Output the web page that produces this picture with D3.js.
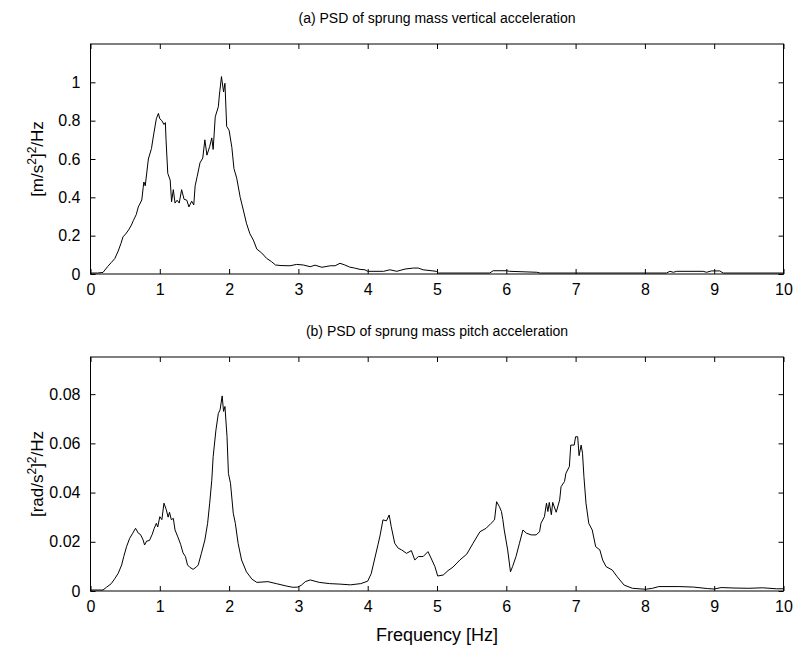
<!DOCTYPE html>
<html>
<head>
<meta charset="utf-8">
<script src="https://cdn.jsdelivr.net/npm/d3@7"></script>
<style>
  body { margin: 0; background: #fff; }
  text { font-family: "Liberation Sans", Arial, Helvetica, sans-serif; fill: #000; }
  .tick line { stroke: #000; }
</style>
</head>
<body>
<svg width="795" height="646"></svg>
<script>
// panel (a): vertical acceleration PSD
var freqA = [0, 0.1, 0.18, 0.25, 0.3, 0.35, 0.4, 0.44, 0.47, 0.5, 0.55, 0.59, 0.62, 0.66, 0.69, 0.74, 0.76, 0.77, 0.79,
    0.835, 0.88, 0.91, 0.95, 0.98, 1.0, 1.03, 1.06, 1.08, 1.09, 1.115, 1.15, 1.17, 1.195, 1.22, 1.25, 1.28, 1.315,
    1.35, 1.39, 1.42, 1.46, 1.49, 1.51, 1.54, 1.58, 1.62, 1.65, 1.68, 1.72, 1.75, 1.77, 1.8, 1.845, 1.86, 1.89, 1.92,
    1.94, 1.965, 2.0, 2.04, 2.07, 2.11, 2.16, 2.205, 2.25, 2.3, 2.35, 2.4, 2.47, 2.54, 2.61, 2.67, 2.75, 2.88, 2.975,
    3.07, 3.17, 3.24, 3.34, 3.46, 3.53, 3.6, 3.67, 3.74, 3.81, 3.89, 3.96, 4.0, 4.23, 4.32, 4.42, 4.54, 4.66, 4.73,
    4.8, 4.99, 5.02, 5.76, 5.81, 6.0, 6.05, 6.44, 6.49, 8.31, 8.36, 8.41, 8.46, 8.84, 8.89, 8.96, 9.08, 9.13, 10.0];
var psdA = [0.005, 0.005, 0.008, 0.04, 0.06, 0.08, 0.12, 0.16, 0.195, 0.205, 0.23, 0.255, 0.28, 0.31, 0.35, 0.386, 0.45, 0.48, 0.46,
    0.6, 0.655, 0.725, 0.81, 0.838, 0.81, 0.8, 0.78, 0.79, 0.7, 0.525, 0.49, 0.377, 0.44, 0.37, 0.385, 0.37, 0.44,
    0.39, 0.385, 0.35, 0.38, 0.36, 0.46, 0.51, 0.58, 0.605, 0.7, 0.62, 0.665, 0.71, 0.65, 0.82, 0.873, 0.934, 1.03, 0.95,
    0.995, 0.77, 0.75, 0.66, 0.55, 0.5, 0.4, 0.334, 0.265, 0.21, 0.177, 0.13, 0.11, 0.082, 0.065, 0.047, 0.044, 0.043, 0.05,
    0.047, 0.038, 0.046, 0.035, 0.043, 0.043, 0.056, 0.047, 0.036, 0.031, 0.024, 0.022, 0.014, 0.014, 0.022, 0.014, 0.026, 0.031, 0.031,
    0.022, 0.014, 0.005, 0.005, 0.017, 0.017, 0.014, 0.009, 0.005, 0.005, 0.014, 0.009, 0.014, 0.014, 0.009, 0.016, 0.016, 0.005, 0.005];

// panel (b): pitch acceleration PSD
var freqB = [0, 0.18, 0.23, 0.3, 0.35, 0.4, 0.45, 0.48, 0.52, 0.565, 0.61, 0.65, 0.69, 0.72, 0.76, 0.78, 0.81, 0.85, 0.89,
    0.92, 0.95, 0.97, 1.0, 1.03, 1.06, 1.094, 1.12, 1.14, 1.166, 1.195, 1.22, 1.26, 1.3, 1.335, 1.37, 1.4, 1.43, 1.48,
    1.53, 1.555, 1.6, 1.65, 1.69, 1.72, 1.75, 1.77, 1.81, 1.845, 1.87, 1.9, 1.92, 1.94, 1.97, 1.99, 2.02, 2.06, 2.09,
    2.13, 2.18, 2.25, 2.33, 2.4, 2.56, 2.68, 2.83, 2.92, 2.99, 3.04, 3.1, 3.17, 3.3, 3.45, 3.6, 3.75, 3.9, 4.0, 4.05,
    4.1, 4.15, 4.18, 4.22, 4.27, 4.31, 4.34, 4.39, 4.44, 4.49, 4.56, 4.63, 4.68, 4.73, 4.8, 4.87, 4.92, 4.97, 5.01,
    5.09, 5.16, 5.23, 5.33, 5.43, 5.52, 5.62, 5.71, 5.78, 5.83, 5.86, 5.9, 5.93, 5.95, 5.97, 6.02, 6.06, 6.09, 6.14,
    6.19, 6.24, 6.29, 6.36, 6.43, 6.48, 6.5, 6.55, 6.58, 6.6, 6.62, 6.65, 6.67, 6.72, 6.77, 6.79, 6.84, 6.86, 6.91,
    6.93, 6.98, 7.0, 7.03, 7.05, 7.08, 7.1, 7.12, 7.15, 7.19, 7.24, 7.29, 7.35, 7.39, 7.44, 7.53, 7.6, 7.7, 7.82,
    8.01, 8.11, 8.2, 8.49, 8.7, 8.9, 9.0, 9.1, 9.3, 9.5, 9.7, 9.9, 10.0];
var psdB = [0.0004, 0.0004, 0.0015, 0.003, 0.005, 0.0072, 0.0106, 0.014, 0.018, 0.0214, 0.0235, 0.0255, 0.0235, 0.023, 0.0207, 0.0187, 0.0203, 0.0205, 0.023,
    0.0255, 0.0275, 0.026, 0.0302, 0.029, 0.0357, 0.033, 0.03, 0.032, 0.029, 0.0295, 0.0248, 0.022, 0.019, 0.0155, 0.014, 0.0106, 0.0097, 0.0088,
    0.0098, 0.0106, 0.0153, 0.0207, 0.0275, 0.0357, 0.045, 0.0546, 0.0654, 0.0722, 0.0736, 0.0793, 0.073, 0.075, 0.0627, 0.0478, 0.0438, 0.0316, 0.0275,
    0.0194, 0.0126, 0.0078, 0.0048, 0.0035, 0.0038, 0.003, 0.002, 0.0015, 0.0016, 0.0023, 0.0038, 0.0045, 0.0035, 0.003, 0.0028, 0.0025, 0.003, 0.004, 0.007,
    0.013, 0.019, 0.0228, 0.0289, 0.0285, 0.0309, 0.0261, 0.0194, 0.0174, 0.0167, 0.0153, 0.0164, 0.0126, 0.014, 0.014, 0.016, 0.013, 0.0099, 0.0061,
    0.0065, 0.0083, 0.0097, 0.0126, 0.015, 0.0194, 0.0241, 0.0255, 0.0275, 0.0289, 0.0363, 0.0343, 0.0323, 0.029, 0.0248, 0.0167, 0.0078, 0.0099, 0.014,
    0.0194, 0.0248, 0.0235, 0.0228, 0.0228, 0.0241, 0.0275, 0.0302, 0.0357, 0.0323, 0.036, 0.031, 0.036, 0.032, 0.037, 0.0424, 0.0445, 0.0478, 0.0506,
    0.0593, 0.0593, 0.0627, 0.0627, 0.055, 0.0593, 0.056, 0.0465, 0.0357, 0.0275, 0.0248, 0.018, 0.0167, 0.0126, 0.0099, 0.0085, 0.0058, 0.0024, 0.0011,
    0.0007, 0.0011, 0.0018, 0.0018, 0.0016, 0.001, 0.0008, 0.0014, 0.0012, 0.0011, 0.0013, 0.0009, 0.0009];

var xTicks = [0, 1, 2, 3, 4, 5, 6, 7, 8, 9, 10];
var yTicksA = [0, 0.2, 0.4, 0.6, 0.8, 1];
var yTicksB = [0, 0.02, 0.04, 0.06, 0.08];

var svg = d3.select("svg");
var left = 90.5, right = 783.5;

function panel(cfg) {
    var x = d3.scaleLinear().domain([0, 10]).range([left, right]);
    var y = d3.scaleLinear().domain([0, cfg.ymax]).range([cfg.bottom, cfg.top]);
    var g = svg.append("g");

    var pts = cfg.freq.map(function(f, i) { return [f, cfg.psd[i]]; });
    var line = d3.line()
        .x(function(d) { return x(d[0]); })
        .y(function(d) { return y(d[1]); });

    g.append("path")
        .datum(pts)
        .attr("d", line)
        .attr("fill", "none")
        .attr("stroke", "#000")
        .attr("stroke-width", 1);

    g.append("g")
        .attr("transform", "translate(0," + cfg.bottom + ")")
        .call(d3.axisBottom(x).tickValues(xTicks).tickFormat(d3.format("d")).tickSizeInner(-5).tickSizeOuter(0).tickPadding(10));
    g.append("g")
        .attr("transform", "translate(0," + cfg.top + ")")
        .call(d3.axisTop(x).tickValues(xTicks).tickFormat("").tickSizeInner(-5).tickSizeOuter(0));
    g.append("g")
        .attr("transform", "translate(" + left + ",0)")
        .call(d3.axisLeft(y).tickValues(cfg.yticks).tickFormat(function(d) { return d3.format("")(+d.toFixed(2)); }).tickSizeInner(-5).tickSizeOuter(0).tickPadding(10));
    g.append("g")
        .attr("transform", "translate(" + right + ",0)")
        .call(d3.axisRight(y).tickValues(cfg.yticks).tickFormat("").tickSizeInner(-5).tickSizeOuter(0));

    g.selectAll(".domain").remove();
    g.selectAll(".tick text").style("font-size", "16px").style("font-family", "'Liberation Sans', Arial, sans-serif");

    g.append("rect")
        .attr("x", left).attr("y", cfg.top)
        .attr("width", right - left).attr("height", cfg.bottom - cfg.top)
        .attr("fill", "none").attr("stroke", "#000").attr("stroke-width", 1);

    g.append("text")
        .attr("x", (left + right) / 2).attr("y", cfg.top - 21)
        .attr("text-anchor", "middle")
        .style("font-size", "14px")
        .text(cfg.title);

    var yl = g.append("text")
        .attr("transform", "translate(43," + (cfg.top + cfg.bottom) / 2 + ") rotate(-90)")
        .attr("text-anchor", "middle")
        .style("font-size", "17px");
    yl.append("tspan").text("[" + cfg.unit + "/s");
    yl.append("tspan").attr("dy", -7).style("font-size", "12px").text("2");
    yl.append("tspan").attr("dy", 7).text("]");
    yl.append("tspan").attr("dy", -7).style("font-size", "12px").text("2");
    yl.append("tspan").attr("dy", 7).text("/Hz");
}

panel({ freq: freqA, psd: psdA, ymax: 1.2, top: 44, bottom: 274, yticks: yTicksA,
    title: "(a) PSD of sprung mass vertical acceleration", unit: "m" });
panel({ freq: freqB, psd: psdB, ymax: 0.0951, top: 357, bottom: 591, yticks: yTicksB,
    title: "(b) PSD of sprung mass pitch acceleration", unit: "rad" });

svg.append("text")
    .attr("x", (left + right) / 2).attr("y", 641)
    .attr("text-anchor", "middle")
    .style("font-size", "18px")
    .text("Frequency [Hz]");
</script>
</body>
</html>
